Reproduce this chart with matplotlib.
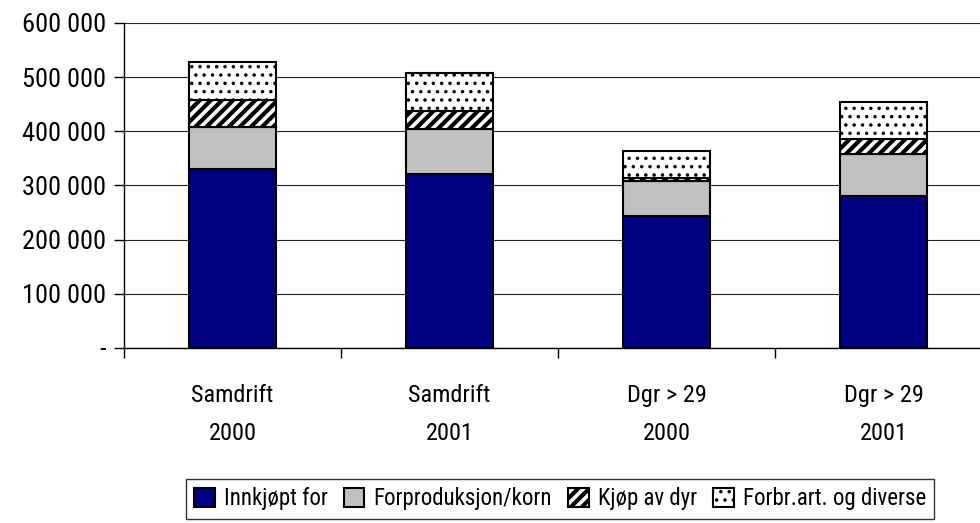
import numpy as np
import matplotlib.pyplot as plt
from matplotlib.ticker import FuncFormatter

plt.rcParams['font.family'] = ['Roboto Condensed', 'DejaVu Sans']
plt.rcParams['font.stretch'] = 'condensed'
plt.rcParams['hatch.linewidth'] = 1.3

categories = ['Samdrift\n2000', 'Samdrift\n2001', 'Dgr > 29\n2000', 'Dgr > 29\n2001']
innkjopt = [330000, 321000, 244000, 281000]
forproduksjon = [78000, 83000, 64000, 77000]
kjop_dyr = [50000, 33000, 6000, 28000]
forbr = [70000, 70000, 50000, 68000]

series = [
    ('Innkjøpt for', innkjopt, dict(color='#000080', edgecolor='black'), 1.0),
    ('Forproduksjon/korn', forproduksjon, dict(color='#c0c0c0', edgecolor='black'), 1.0),
    ('Kjøp av dyr', kjop_dyr, dict(color='white', edgecolor='black', hatch='///'), 3.0),
    ('Forbr.art. og diverse', forbr, dict(color='white', edgecolor='black', hatch='..'), 1.3),
]

fig = plt.figure(figsize=(9.8, 5.23), dpi=100)
ax = fig.add_axes([124 / 980, (523 - 348) / 523, 868 / 980, 325 / 523])

x = np.arange(len(categories))
bottom = np.zeros(len(categories))
hatch_lw = {}
for label, vals, style, hlw in series:
    bars = ax.bar(x, vals, width=0.405, bottom=bottom, label=label, linewidth=1.5, zorder=3, **style)
    hatch_lw[label] = hlw
    for b in bars:
        if hasattr(b, 'set_hatch_linewidth'):
            b.set_hatch_linewidth(hlw)
    bottom += np.array(vals)

ax.set_xlim(-0.5, len(categories) - 0.5)
ax.set_ylim(0, 600000)
ax.set_yticks(np.arange(0, 600001, 100000))
ax.yaxis.set_major_formatter(FuncFormatter(
    lambda v, p: '-' if v == 0 else f'{int(v):,}'.replace(',', ' ')))
ax.grid(axis='y', color='#222222', linewidth=0.8, zorder=0)

ax.set_xticks(x)
ax.set_xticklabels(categories, linespacing=1.85)
ax.set_xticks(np.arange(-0.5, len(categories), 1), minor=True)
ax.tick_params(axis='x', which='major', length=0, pad=26, labelsize=17.5)
ax.tick_params(axis='x', which='minor', length=7, width=1, direction='out')
ax.tick_params(axis='y', length=7, width=1, labelsize=19, pad=6)

for s in ['top', 'right']:
    ax.spines[s].set_visible(False)
for s in ['left', 'bottom']:
    ax.spines[s].set_linewidth(1)

leg = fig.legend(loc='center', bbox_to_anchor=(560 / 980, 1 - 499 / 523), ncol=4,
                 fontsize=16.5, frameon=True, fancybox=False, edgecolor='black',
                 handlelength=0.9, handleheight=0.9, handletextpad=0.4,
                 columnspacing=0.7, borderpad=0.35)
leg.get_frame().set_linewidth(1)
for h, t in zip(leg.legend_handles, leg.get_texts()):
    if hasattr(h, 'set_hatch_linewidth'):
        h.set_hatch_linewidth(hatch_lw[t.get_text()])

fig.savefig('out.png', dpi=100)
